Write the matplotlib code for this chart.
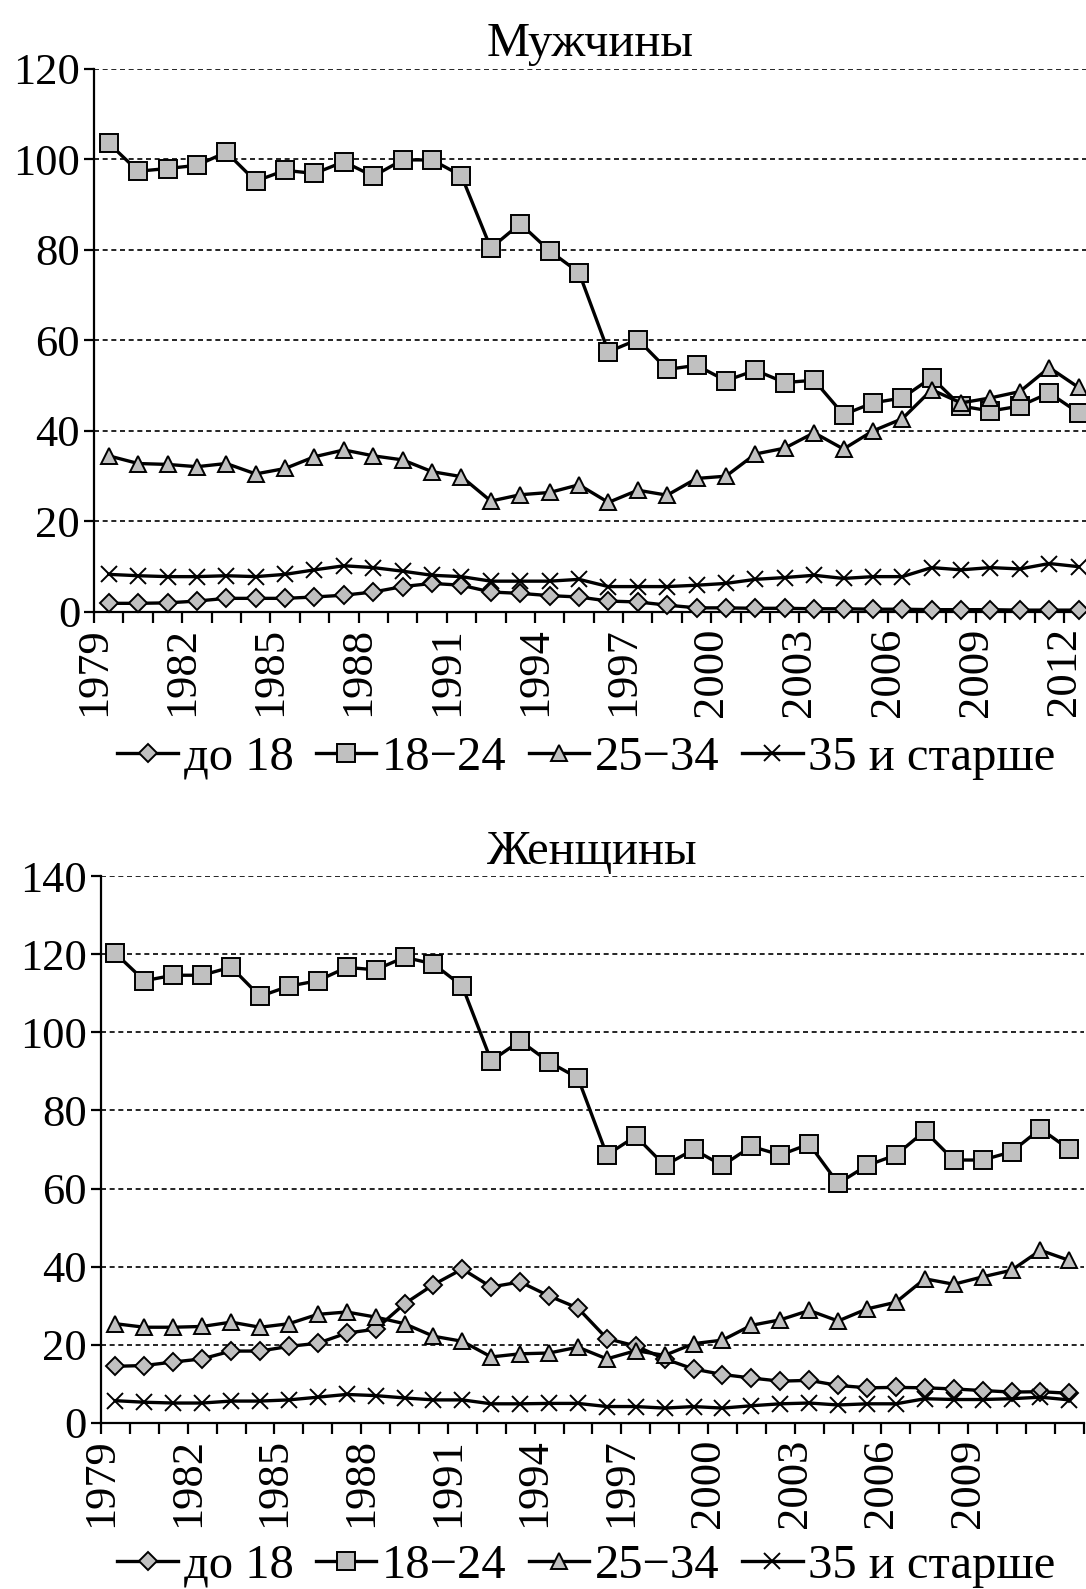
import numpy as np
import matplotlib
matplotlib.use('Agg')
from matplotlib import pyplot as plt

plt.rcParams['font.family'] = ['Liberation Serif', 'DejaVu Serif']

years = list(range(1979, 2013))

# мужчины
m_u18 = [1.9, 1.9, 2.0, 2.4, 3.0, 3.0, 3.0, 3.3, 3.7, 4.4, 5.6, 6.3, 5.9, 4.4, 4.1, 3.6,
         3.3, 2.4, 2.2, 1.5, 0.9, 0.9, 0.8, 0.8, 0.7, 0.7, 0.6, 0.6, 0.5, 0.5, 0.5, 0.4, 0.4, 0.4]
m_18_24 = [103.6, 97.4, 98.0, 98.7, 101.6, 95.2, 97.6, 96.9, 99.5, 96.3, 99.9, 99.9, 96.4, 80.4, 85.8, 79.8,
           75.0, 57.5, 60.2, 53.6, 54.5, 51.1, 53.4, 50.7, 51.2, 43.6, 46.2, 47.3, 51.8, 45.5, 44.4, 45.5, 48.4, 44.0]
m_25_34 = [34.5, 32.8, 32.6, 32.1, 32.8, 30.5, 31.7, 34.3, 35.8, 34.5, 33.6, 31.0, 29.9, 24.5, 25.9, 26.4,
           28.1, 24.2, 26.9, 25.8, 29.5, 30.0, 34.9, 36.2, 39.6, 36.0, 40.0, 42.7, 49.1, 46.2, 47.3, 48.7, 54.0, 49.6]
m_35 = [8.3, 8.0, 7.8, 7.8, 8.0, 7.8, 8.3, 9.3, 10.2, 9.8, 9.0, 8.1, 7.8, 6.8, 6.8, 6.8,
        7.2, 5.6, 5.6, 5.6, 5.9, 6.3, 7.2, 7.6, 8.1, 7.4, 7.8, 7.8, 9.8, 9.3, 9.8, 9.5, 10.7, 10.0]

# женщины
f_u18 = [14.5, 14.7, 15.6, 16.4, 18.4, 18.4, 19.6, 20.4, 23.0, 24.0, 30.5, 35.4, 39.4, 34.8, 36.1, 32.5,
         29.4, 21.6, 19.7, 16.4, 13.8, 12.4, 11.5, 10.7, 10.9, 9.6, 9.0, 9.1, 9.0, 8.7, 8.3, 7.9, 8.0, 7.6]
f_18_24 = [120.2, 113.2, 114.6, 114.6, 116.7, 109.2, 111.8, 113.2, 116.6, 116.0, 119.2, 117.5, 111.8, 92.7, 97.8, 92.4,
           88.3, 68.6, 73.4, 65.9, 70.0, 65.9, 70.8, 68.6, 71.4, 61.3, 65.9, 68.6, 74.7, 67.3, 67.3, 69.4, 75.3, 70.0]
f_25_34 = [25.4, 24.5, 24.5, 24.7, 25.8, 24.5, 25.4, 27.8, 28.4, 27.1, 25.4, 22.2, 20.9, 16.9, 17.7, 17.9,
           19.4, 16.4, 18.5, 17.3, 20.3, 21.2, 25.0, 26.4, 28.8, 26.1, 29.2, 30.9, 36.9, 35.5, 37.4, 39.1, 44.2, 41.6]
f_35 = [5.7, 5.3, 5.1, 5.1, 5.6, 5.6, 5.9, 6.6, 7.3, 7.0, 6.4, 5.9, 5.9, 4.9, 4.9, 5.0,
        5.0, 4.2, 4.2, 3.8, 4.2, 3.8, 4.4, 4.9, 5.1, 4.6, 4.9, 4.9, 6.2, 6.0, 6.0, 6.2, 6.6, 5.9]

labels = ['до 18', '18\u221224', '25\u221234', '35 и старше']
markers = ['D', 's', '^', 'x']
msizes = [9, 12.5, 11, 11]
gray = '#c0c0c0'
FS = 32
FS_LEG = 35


def panel(ax, series, title, ymax, xmax, last_label):
    x = np.arange(len(years)) + 0.5
    handles = []
    for s, mk, ms, lab in zip(series, markers, msizes, labels):
        l, = ax.plot(x, s, color='black', lw=2.4, marker=mk, ms=ms,
                     mfc=gray, mec='black', mew=1.4,
                     zorder=3, label=lab, clip_on=False)
        handles.append(l)
    ax.set_xlim(0, xmax)
    ax.set_ylim(0, ymax)
    ax.set_yticks(range(0, ymax + 1, 20))
    major = list(range(0, last_label + 1, 3))
    ax.set_xticks(major)
    ax.set_xticklabels([str(years[i]) for i in major], rotation=90)
    ax.set_xticks(range(0, int(xmax) + 1), minor=True)
    for yv in range(20, ymax + 1, 20):
        ax.axhline(yv, color='black', lw=1.2, ls=(0, (3, 2.2)), zorder=1)
    for side in ['top', 'right']:
        ax.spines[side].set_visible(False)
    for side in ['left', 'bottom']:
        ax.spines[side].set_linewidth(1.6)
    ax.tick_params(axis='both', which='both', direction='out', width=1.6,
                   labelsize=FS, pad=3)
    ax.tick_params(axis='y', length=7)
    ax.tick_params(axis='x', which='both', length=8)
    ax.set_title(title, fontsize=35, pad=9)
    return handles


fig = plt.figure(figsize=(10.86, 15.89), dpi=100)

ax1 = fig.add_axes([0.0866, 0.6149, 0.9134, 0.3417])
h = panel(ax1, [m_u18, m_18_24, m_25_34, m_35], 'Мужчины', 120, 33.75, 33)
fig.legend(handles=h, loc='center', bbox_to_anchor=(0.54, 0.523), ncol=4,
           frameon=False, fontsize=FS_LEG, handlelength=1.25, handletextpad=0.12,
           columnspacing=0.45, borderaxespad=0)

ax2 = fig.add_axes([0.093, 0.1045, 0.905, 0.3442])
h = panel(ax2, [f_u18, f_18_24, f_25_34, f_35], 'Женщины', 140, 34, 30)
fig.legend(handles=h, loc='center', bbox_to_anchor=(0.54, 0.0145), ncol=4,
           frameon=False, fontsize=FS_LEG, handlelength=1.25, handletextpad=0.12,
           columnspacing=0.45, borderaxespad=0)

fig.savefig('out.png', dpi=100)
